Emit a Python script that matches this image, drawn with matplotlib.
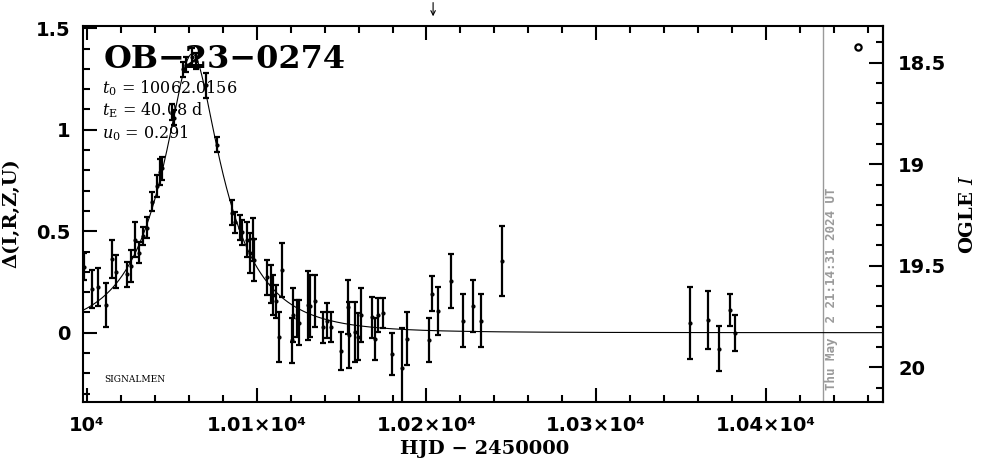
import numpy as np
import matplotlib
matplotlib.use("Agg")
import matplotlib.pyplot as plt
from matplotlib.ticker import MultipleLocator, FixedLocator, FixedFormatter

# event parameters (as printed on the chart)
event_name = "OB\u221223\u22120274"
t0 = 10062.0156
t_e = 40.08
u0 = 0.291
base_mag = 19.83
now_hjd = 10433.8
arrow_hjd = 10203.9
stamp = "Thu May  2 21:14:31 2024 UT"

# OGLE photometry: HJD-2450000, delta mag, error
hjd = [9998.2, 10002.9, 10006.5, 10011.2, 10014.7, 10017.1, 10023.6, 10025.9, 10028.3,
       10030.6, 10033.0, 10035.4, 10038.3, 10041.2, 10043.0, 10044.2, 10050.1, 10051.3,
       10056.6, 10058.3, 10061.9, 10064.2, 10070.1, 10076.6, 10085.4, 10087.2, 10090.2,
       10091.3, 10094.3, 10096.1, 10097.8, 10098.4, 10106.1, 10108.4, 10109.6, 10111.4,
       10113.1, 10114.9, 10120.8, 10121.4, 10123.7, 10124.9, 10130.2, 10131.4, 10134.4,
       10139.1, 10141.4, 10143.8, 10149.7, 10153.8, 10154.4, 10157.9, 10159.7, 10161.5,
       10167.9, 10169.7, 10171.5, 10174.4, 10179.7, 10185.6, 10188.6, 10201.5, 10203.3,
       10206.8, 10214.5, 10221.6, 10227.5, 10232.2, 10244.6, 10355.3, 10365.9, 10372.4,
       10378.9, 10381.9]
delta = [0.326, 0.215, 0.225, 0.136, 0.363, 0.301, 0.287, 0.329, 0.457,
         0.395, 0.476, 0.518, 0.646, 0.723, 0.792, 0.809, 1.087, 1.060,
         1.297, 1.320, 1.358, 1.340, 1.218, 0.927, 0.592, 0.543, 0.518,
         0.494, 0.459, 0.393, 0.460, 0.360, 0.272, 0.240, 0.186, 0.154,
         -0.021, 0.309, -0.038, 0.087, 0.070, 0.050, 0.136, 0.131, 0.156,
         0.026, 0.060, 0.028, -0.090, 0.127, -0.011, 0.003, -0.019, 0.087,
         0.075, -0.031, 0.087, 0.097, -0.105, -0.174, -0.029, -0.036, 0.191,
         0.107, 0.255, 0.060, 0.132, 0.060, 0.353, 0.048, 0.063, -0.078,
         0.112, -0.001]
err = [0.066, 0.094, 0.094, 0.108, 0.094, 0.081, 0.062, 0.079, 0.086,
       0.052, 0.044, 0.052, 0.047, 0.054, 0.062, 0.057, 0.039, 0.035,
       0.037, 0.037, 0.044, 0.040, 0.062, 0.037, 0.062, 0.052, 0.062,
       0.062, 0.086, 0.099, 0.106, 0.103, 0.086, 0.094, 0.099, 0.081,
       0.123, 0.133, 0.111, 0.133, 0.091, 0.111, 0.170, 0.153, 0.128,
       0.076, 0.086, 0.074, 0.094, 0.135, 0.163, 0.148, 0.116, 0.133,
       0.101, 0.103, 0.084, 0.074, 0.103, 0.197, 0.131, 0.108, 0.086,
       0.118, 0.131, 0.131, 0.128, 0.131, 0.172, 0.177, 0.143, 0.111,
       0.079, 0.089]

x_ticks = [10000, 10100, 10200, 10300, 10400]
x_labels = ["10\u2074", "1.01\u00d710\u2074", "1.02\u00d710\u2074",
            "1.03\u00d710\u2074", "1.04\u00d710\u2074"]
y_ticks = [0, 0.5, 1, 1.5]
y_labels = ["0", "0.5", "1", "1.5"]
mag_ticks = [18.5, 19, 19.5, 20]
mag_labels = ["18.5", "19", "19.5", "20"]

plt.rcParams["mathtext.fontset"] = "dejavuserif"
plt.rcParams["mathtext.default"] = "regular"

fig = plt.figure(figsize=(9.86, 4.59), dpi=100)
ax = fig.add_axes([0.0839, 0.1248, 0.8114, 0.8186])

# model curve from the fit parameters
tt = np.linspace(9997.5, 10468.8, 2000)
uu = np.sqrt(u0 ** 2 + ((tt - t0) / t_e) ** 2)
amp = (uu ** 2 + 2) / (uu * np.sqrt(uu ** 2 + 4))
ax.plot(tt, 2.5 * np.log10(amp), color="black", lw=0.8, zorder=2)

ax.errorbar(hjd, delta, yerr=err, fmt="o", ms=2, color="black", ecolor="black",
            elinewidth=1.6, capsize=2, capthick=1.6, zorder=3)

ax.axvline(now_hjd, color="#9a9a9a", lw=1.0, zorder=1)
ax.text(now_hjd + 1.0, -0.283, stamp, rotation=90, ha="left", va="bottom",
        color="#9a9a9a", fontsize=9, family="DejaVu Sans Mono", fontweight="bold")

ax.set_xlim(9997.5, 10468.8)
ax.set_ylim(-0.340, 1.511)

ax.xaxis.set_major_locator(FixedLocator(x_ticks))
ax.xaxis.set_major_formatter(FixedFormatter(x_labels))
ax.xaxis.set_minor_locator(MultipleLocator(20))
ax.yaxis.set_major_locator(FixedLocator(y_ticks))
ax.yaxis.set_major_formatter(FixedFormatter(y_labels))
ax.yaxis.set_minor_locator(MultipleLocator(0.1))

ax.tick_params(which="both", direction="in", top=True, right=False, width=1.5,
               labelsize=14)
ax.tick_params(which="major", length=10)
ax.tick_params(which="minor", length=5)
ax.tick_params(axis="x", pad=10)
ax.tick_params(axis="y", pad=9)
for lab in ax.get_xticklabels() + ax.get_yticklabels():
    lab.set_fontweight("bold")
    lab.set_family("DejaVu Sans")
for sp in ax.spines.values():
    sp.set_linewidth(1.5)

sec = ax.secondary_yaxis("right", functions=(lambda d: base_mag - d, lambda m: base_mag - m))
sec.yaxis.set_major_locator(FixedLocator(mag_ticks))
sec.yaxis.set_major_formatter(FixedFormatter(mag_labels))
sec.yaxis.set_minor_locator(MultipleLocator(0.1))
sec.tick_params(which="both", direction="in", width=1.5, labelsize=14, pad=11)
sec.tick_params(which="major", length=10)
sec.tick_params(which="minor", length=5)
for lab in sec.get_yticklabels():
    lab.set_fontweight("bold")
    lab.set_family("DejaVu Sans")
sec.spines["right"].set_linewidth(1.5)

# labels
fig.text(0.492, 0.022, "HJD \u2212 2450000", ha="center", va="center", fontsize=14,
         family="DejaVu Serif", fontweight="bold")
fig.text(0.012, 0.535, "\u0394(I,R,Z,U)", rotation=90, ha="center", va="center",
         fontsize=14, family="DejaVu Serif", fontweight="bold")
fig.text(0.982, 0.533, "OGLE $\\mathit{I}$", rotation=90, ha="center", va="center",
         fontsize=14, family="DejaVu Serif", fontweight="bold")

ax.text(0.026, 0.888, event_name, transform=ax.transAxes, fontsize=23,
        family="DejaVu Serif", fontweight="bold", va="baseline")
ax.text(0.024, 0.835, "$\\mathit{t}_0$ = %.4f" % t0, transform=ax.transAxes, fontsize=11.5,
        family="DejaVu Serif", va="center")
ax.text(0.024, 0.777, "$\\mathit{t}_{\\rm E}$ = %.2f d" % t_e, transform=ax.transAxes,
        fontsize=11.5, family="DejaVu Serif", va="center")
ax.text(0.024, 0.715, "$\\mathit{u}_0$ = %.3f" % u0, transform=ax.transAxes, fontsize=11.5,
        family="DejaVu Serif", va="center")
ax.text(0.027, 0.058, "SIGNALMEN", transform=ax.transAxes, fontsize=6.5,
        family="DejaVu Serif", va="center")
ax.plot([0.969], [0.945], "o", transform=ax.transAxes, ms=4.5, mfc="white",
        mec="black", mew=1.6, clip_on=False)

ax.annotate("", xy=(arrow_hjd, 1.545), xytext=(arrow_hjd, 1.64),
            xycoords=("data", "data"), annotation_clip=False,
            arrowprops=dict(arrowstyle="->", lw=0.8, color="black",
                            mutation_scale=8))

fig.savefig("out.png", dpi=100)
